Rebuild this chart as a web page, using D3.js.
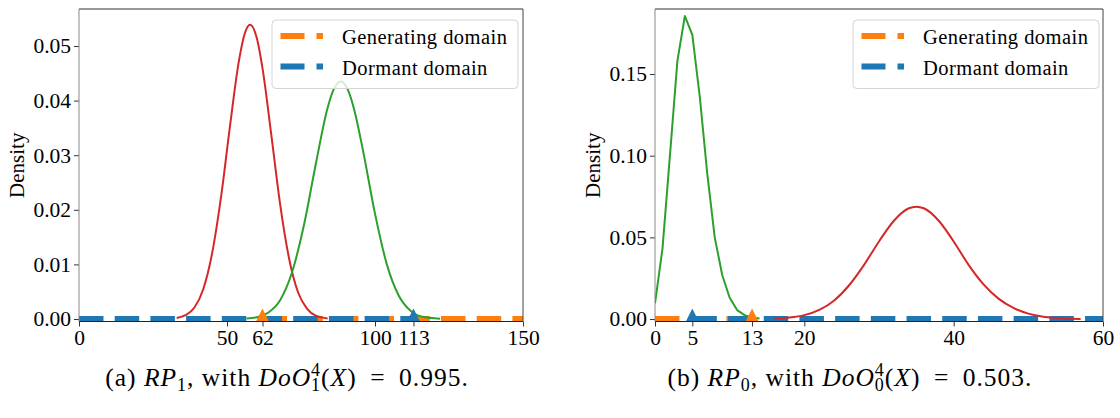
<!DOCTYPE html>
<html>
<head>
<meta charset="utf-8">
<script src="https://cdn.jsdelivr.net/npm/d3@7"></script>
<style>
  body { margin: 0; background: #fff; }
  svg { display: block; font-family: "Liberation Serif", "Times New Roman", serif; }
</style>
</head>
<body>
<svg id="chart" width="1120" height="418"></svg>
<script>
// ---- data ----
var leftTicksX = [0, 50, 62, 100, 113, 150];
var leftTicksY = [0, 0.01, 0.02, 0.03, 0.04, 0.05];
var rightTicksX = [0, 5, 13, 20, 40, 60];
var rightTicksY = [0, 0.05, 0.10, 0.15];

var leftRedX = [33, 36, 39, 42, 45, 48, 51, 54, 56, 57.8, 60, 62, 65, 68, 71, 74, 77, 80, 84];
var leftRedY = [0.0002, 0.0007, 0.0021, 0.0055, 0.0121, 0.0224, 0.0353, 0.0472, 0.0523, 0.0539, 0.0516, 0.0459, 0.0336, 0.0208, 0.0110, 0.0049, 0.0019, 0.0006, 0.0001];
var leftGreenX = [56.6, 60, 64, 68, 72, 76, 80, 84, 86, 88.4, 91, 93, 96, 100, 104, 108, 112, 116, 122];
var leftGreenY = [0.0001, 0.0003, 0.0012, 0.0035, 0.0086, 0.0172, 0.0284, 0.0387, 0.0420, 0.0435, 0.0418, 0.0383, 0.0307, 0.0193, 0.0100, 0.0043, 0.0015, 0.0004, 0.00005];

var rightGreenX = [0, 1, 2, 3, 4, 5, 6, 7, 8, 9, 10, 11, 12, 13, 14];
var rightGreenY = [0.0096, 0.043, 0.100, 0.158, 0.1855, 0.174, 0.136, 0.089, 0.050, 0.027, 0.013, 0.0055, 0.0024, 0.001, 0.0004];
var rightRedX = [16, 18, 20, 22, 24, 26, 28, 30, 32, 34, 35, 36, 38, 40, 42, 44, 46, 48, 50, 52, 54, 57];
var rightRedY = [0.0003, 0.0009, 0.0024, 0.0056, 0.0114, 0.0207, 0.0332, 0.0475, 0.0602, 0.0678, 0.0688, 0.0678, 0.0602, 0.0475, 0.0332, 0.0212, 0.0125, 0.0068, 0.0033, 0.0014, 0.0005, 0.0001];

// domains: [start, end] on the x axis
var leftGenerating = [62, 150];
var leftDormant = [0, 113];
var rightGenerating = [0, 13];
var rightDormant = [5, 60];
var leftGenMarker = [62], leftDorMarker = [113];
var rightGenMarker = [13], rightDorMarker = [5];

var legendLabels = ["Generating domain", "Dormant domain"];

var ORANGE = "#ff7f0e", BLUE = "#1f77b4", RED = "#d62728", GREEN = "#2ca02c";

var svg = d3.select("#chart");

var panels = [
  { id: "a", x0: 79, x1: 523, xDomain: [0, 150], yDomain: [-0.00046, 0.05678],
    xTicks: leftTicksX, yTicks: leftTicksY,
    curves: [{ x: leftRedX, y: leftRedY, c: RED, smooth: true }, { x: leftGreenX, y: leftGreenY, c: GREEN, smooth: true }],
    gen: leftGenerating, dor: leftDormant, genMark: leftGenMarker, dorMark: leftDorMarker,
    legendX: 272, labelX: 17, capX: 287, sub: "1", val: "0.995." },
  { id: "b", x0: 655, x1: 1103, xDomain: [0, 60], yDomain: [-0.0015, 0.1898],
    xTicks: rightTicksX, yTicks: rightTicksY,
    curves: [{ x: rightGreenX, y: rightGreenY, c: GREEN, smooth: false }, { x: rightRedX, y: rightRedY, c: RED, smooth: true }],
    gen: rightGenerating, dor: rightDormant, genMark: rightGenMarker, dorMark: rightDorMarker,
    legendX: 853, labelX: 593, capX: 850, sub: "0", val: "0.503." }
];

var axTop = 9, axBottom = 321.5;

panels.forEach(function (p) {
  var x = d3.scaleLinear().domain(p.xDomain).range([p.x0, p.x1]);
  var y = d3.scaleLinear().domain(p.yDomain).range([axBottom, axTop]);

  svg.append("clipPath").attr("id", "clip" + p.id)
    .append("rect").attr("x", p.x0).attr("y", axTop)
    .attr("width", p.x1 - p.x0).attr("height", axBottom - axTop);

  var plot = svg.append("g").attr("clip-path", "url(#clip" + p.id + ")");

  // domain lines, orange under blue
  var flat = d3.line().x(function (d) { return x(d); }).y(function () { return y(0); });
  plot.append("path").attr("d", flat(p.gen))
    .attr("stroke", ORANGE).attr("stroke-width", 6).attr("fill", "none")
    .attr("stroke-dasharray", "24.5,11.2");
  plot.append("path").attr("d", flat(p.dor))
    .attr("stroke", BLUE).attr("stroke-width", 6).attr("fill", "none")
    .attr("stroke-dasharray", "24.5,11.2");

  // density curves
  p.curves.forEach(function (c) {
    var pts = c.x.map(function (v, i) { return [v, c.y[i]]; });
    var line = d3.line()
      .x(function (d) { return x(d[0]); })
      .y(function (d) { return y(d[1]); })
      .curve(c.smooth ? d3.curveMonotoneX : d3.curveLinear);
    plot.append("path").attr("d", line(pts))
      .attr("stroke", c.c).attr("stroke-width", 2).attr("fill", "none")
      .attr("stroke-linejoin", "round");
  });

  // triangle markers at y = 0
  function tri(xs, color) {
    plot.selectAll(null).data(xs).enter().append("path")
      .attr("d", "M0,-10.5L-10.5,10.5L10.5,10.5Z")
      .attr("transform", function (d) { return "translate(" + x(d) + "," + y(0) + ")"; })
      .attr("fill", color);
  }
  tri(p.genMark, ORANGE);
  tri(p.dorMark, BLUE);

  // axes
  var xAxis = svg.append("g").attr("transform", "translate(0," + axBottom + ")")
    .call(d3.axisBottom(x).tickValues(p.xTicks).tickFormat(d3.format("d")).tickSize(5).tickSizeOuter(0));
  var yAxis = svg.append("g").attr("transform", "translate(" + p.x0 + ",0)")
    .call(d3.axisLeft(y).tickValues(p.yTicks).tickFormat(d3.format(".2f")).tickSize(5).tickSizeOuter(0));
  [xAxis, yAxis].forEach(function (a) {
    a.attr("color", "#333").attr("font-family", null).attr("font-size", null);
    a.select(".domain").remove();
    a.selectAll("text").attr("font-size", 21.5).attr("fill", "#000");
  });

  // spines
  svg.append("line").attr("x1", p.x0).attr("x2", p.x1).attr("y1", axTop).attr("y2", axTop).attr("stroke", "#333");
  svg.append("line").attr("x1", p.x0).attr("x2", p.x1).attr("y1", axBottom).attr("y2", axBottom).attr("stroke", "#222");
  svg.append("line").attr("x1", p.x1).attr("x2", p.x1).attr("y1", axTop).attr("y2", axBottom).attr("stroke", "#444");
  svg.append("line").attr("x1", p.x0).attr("x2", p.x0).attr("y1", axTop).attr("y2", axBottom).attr("stroke", "#888");

  // y label
  svg.append("text")
    .attr("transform", "translate(" + p.labelX + "," + ((axTop + axBottom) / 2) + ") rotate(-90)")
    .attr("text-anchor", "middle").attr("dy", "0.35em")
    .attr("font-size", 21).text("Density");

  // legend
  var lg = svg.append("g").attr("transform", "translate(" + p.legendX + ",20)");
  lg.append("rect").attr("width", 246).attr("height", 68.5).attr("rx", 4)
    .attr("fill", "#fff").attr("fill-opacity", 0.8).attr("stroke", "#d5d5d5");
  [ORANGE, BLUE].forEach(function (col, i) {
    var yy = 16 + i * 30.5;
    lg.append("line").attr("x1", 8.5).attr("x2", 51).attr("y1", yy).attr("y2", yy)
      .attr("stroke", col).attr("stroke-width", 6).attr("stroke-dasharray", "24,12");
    lg.append("text").attr("x", 70).attr("y", yy + 8)
      .attr("font-size", 20.5).attr("letter-spacing", "0.45px").text(legendLabels[i]);
  });

  // caption
  var cap = svg.append("text").attr("x", p.capX).attr("y", 386)
    .attr("text-anchor", "middle").attr("font-size", 25.5).attr("letter-spacing", "1px");
  cap.append("tspan").text("(" + p.id + ") ");
  cap.append("tspan").attr("font-style", "italic").text("RP");
  cap.append("tspan").attr("font-size", 18).attr("dy", 5).text(p.sub);
  cap.append("tspan").attr("dy", -5).text(", with ");
  cap.append("tspan").attr("font-style", "italic").text("DoO");
  cap.append("tspan").attr("font-size", 18).attr("dy", -10).text("4");
  cap.append("tspan").attr("font-size", 18).attr("dx", -10).attr("dy", 15).text(p.sub);
  cap.append("tspan").attr("dy", -5).text("(");
  cap.append("tspan").attr("font-style", "italic").text("X");
  cap.append("tspan").text(")\u2009 = \u2009" + p.val);
});
</script>
</body>
</html>
